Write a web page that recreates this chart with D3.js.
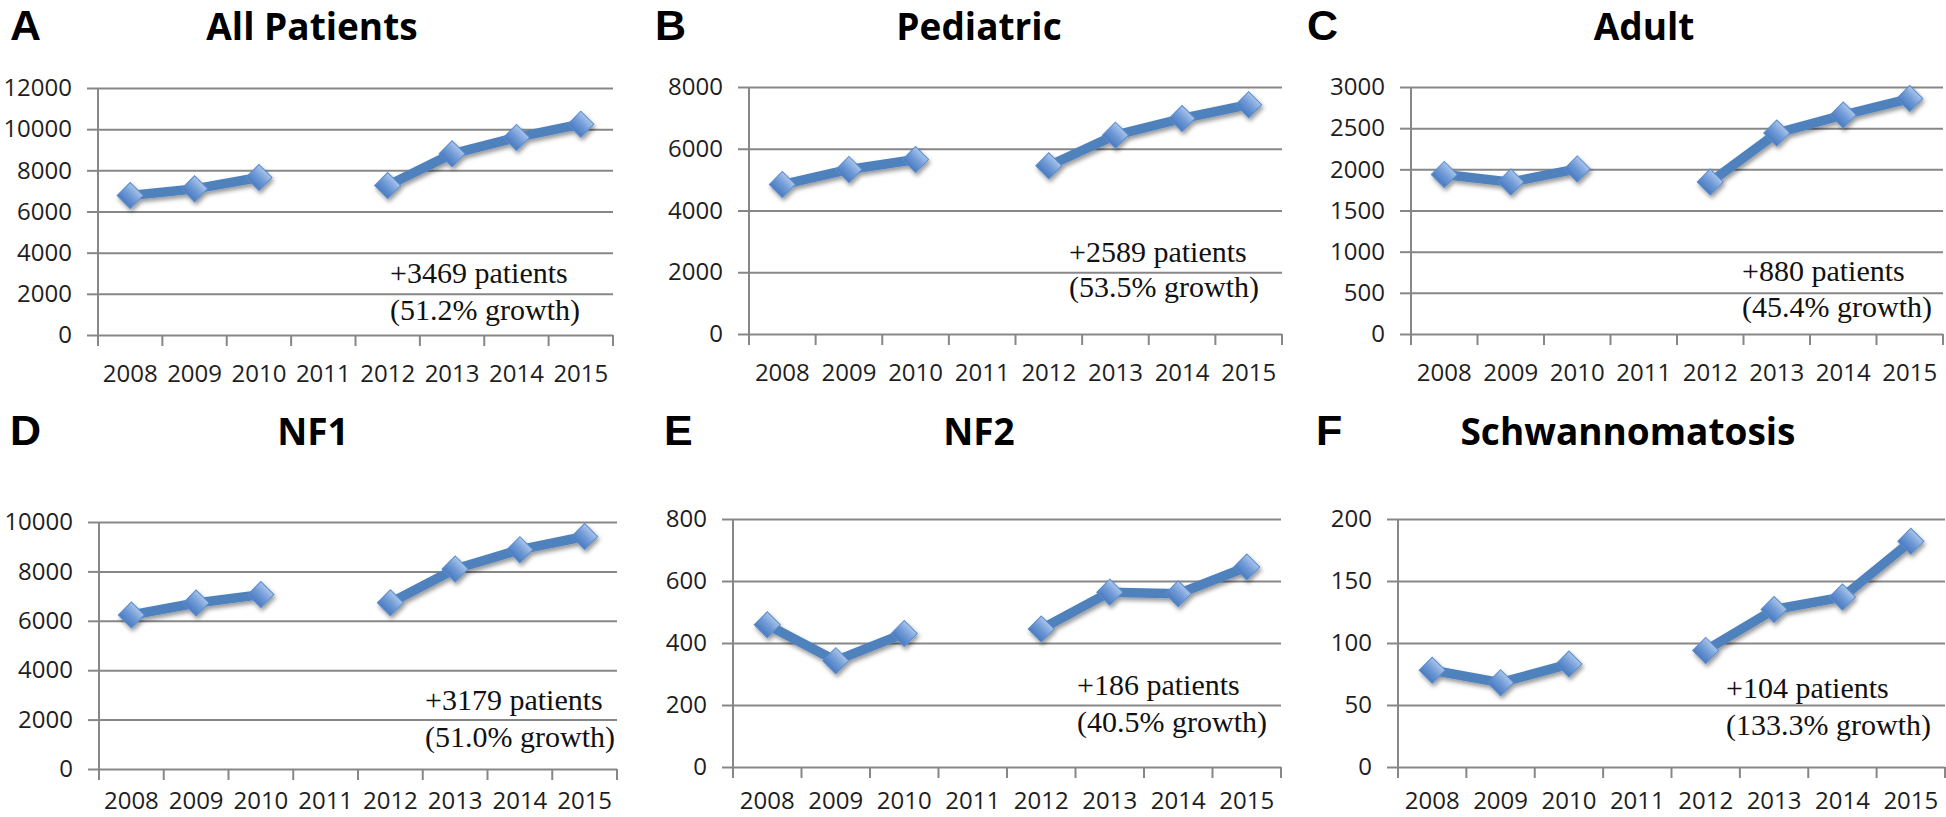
<!DOCTYPE html>
<html>
<head>
<meta charset="utf-8">
<script src="https://cdn.jsdelivr.net/npm/d3@7"></script>
<style>
  html, body { margin: 0; padding: 0; background: #ffffff; }
  svg { display: block; }
</style>
</head>
<body>
<svg id="chart" width="1946" height="817"></svg>
<script>
// ---------------- DATA ----------------
const years = ["2008", "2009", "2010", "2011", "2012", "2013", "2014", "2015"];
const panelLetters = ["A", "B", "C", "D", "E", "F"];
const panelTitles = ["All Patients", "Pediatric", "Adult", "NF1", "NF2", "Schwannomatosis"];

// values per year (2011 missing -> null)
const allPatients     = [6775, 7100, 7650, null, 7260, 8800, 9600, 10244];
const pediatric       = [4839, 5330, 5650, null, 5450, 6440, 6980, 7428];
const adult           = [1938, 1845, 2005, null, 1845, 2440, 2660, 2860];
const nf1             = [6233, 6720, 7060, null, 6730, 8100, 8880, 9412];
const nf2             = [459, 343, 431, null, 445, 564, 559, 645];
const schwannomatosis = [78, 68, 83, null, 94, 127, 137, 182];

// y-axis ticks
const yTicksA = [0, 2000, 4000, 6000, 8000, 10000, 12000];
const yTicksB = [0, 2000, 4000, 6000, 8000];
const yTicksC = [0, 500, 1000, 1500, 2000, 2500, 3000];
const yTicksD = [0, 2000, 4000, 6000, 8000, 10000];
const yTicksE = [0, 200, 400, 600, 800];
const yTicksF = [0, 50, 100, 150, 200];

// annotation texts
const growthLine1 = ["+3469 patients", "+2589 patients", "+880 patients", "+3179 patients", "+186 patients", "+104 patients"];
const growthLine2 = ["(51.2% growth)", "(53.5% growth)", "(45.4% growth)", "(51.0% growth)", "(40.5% growth)", "(133.3% growth)"];

const seriesList = [allPatients, pediatric, adult, nf1, nf2, schwannomatosis];
const tickList = [yTicksA, yTicksB, yTicksC, yTicksD, yTicksE, yTicksF];

// ---------------- LAYOUT (positions / styles) ----------------
const layout = [
  { left: 98,   right: 613,  top: 88,  bottom: 335, labelY: 47, titleX: 312,  titleY: 40,  letterX: 10,   letterY: 40,  annX: 223, ann1: 52, ann2: 15 },
  { left: 749,  right: 1282, top: 87,  bottom: 334, labelY: 47, titleX: 979,  titleY: 40,  letterX: 655,  letterY: 40,  annX: 213, ann1: 72, ann2: 37 },
  { left: 1411, right: 1943, top: 87,  bottom: 334, labelY: 47, titleX: 1644, titleY: 40,  letterX: 1307, letterY: 40,  annX: 201, ann1: 53, ann2: 17 },
  { left: 99,   right: 617,  top: 522, bottom: 769, labelY: 40, titleX: 313,  titleY: 445, letterX: 10,   letterY: 445, annX: 192, ann1: 59, ann2: 22 },
  { left: 733,  right: 1281, top: 519, bottom: 767, labelY: 42, titleX: 979,  titleY: 445, letterX: 664,  letterY: 445, annX: 204, ann1: 72, ann2: 35 },
  { left: 1398, right: 1945, top: 519, bottom: 767, labelY: 42, titleX: 1628, titleY: 445, letterX: 1316, letterY: 445, annX: 219, ann1: 69, ann2: 32 }
];

const gridColor = "#878787";
const lineColor = "#4F81BD";
const labelFont = "'Open Sans', 'DejaVu Sans', sans-serif";

const svg = d3.select("#chart");

// defs: gradient for markers and a drop shadow
const defs = svg.append("defs");
const grad = defs.append("linearGradient").attr("id", "mk").attr("x1", 0).attr("y1", 0).attr("x2", 0).attr("y2", 1);
grad.append("stop").attr("offset", "0%").attr("stop-color", "#a9c4ea");
grad.append("stop").attr("offset", "50%").attr("stop-color", "#6f9ad6");
grad.append("stop").attr("offset", "100%").attr("stop-color", "#4a7bc0");
const shadow = defs.append("filter").attr("id", "sh").attr("x", "-20%").attr("y", "-20%").attr("width", "140%").attr("height", "140%");
shadow.append("feDropShadow").attr("dx", 1.5).attr("dy", 3).attr("stdDeviation", 2.2).attr("flood-color", "#000").attr("flood-opacity", 0.4);

seriesList.forEach((values, i) => {
  const L = layout[i];
  const ticks = tickList[i];
  const g = svg.append("g");

  const x = d3.scaleBand().domain(years).range([L.left, L.right]).padding(0);
  const y = d3.scaleLinear().domain([0, d3.max(ticks)]).range([L.bottom, L.top]);

  // horizontal gridlines + left tick marks + labels
  const yAxis = d3.axisLeft(y).tickValues(ticks).tickSize(11).tickPadding(15).tickFormat(d3.format("d"));
  const ya = g.append("g").attr("transform", `translate(${L.left},0)`).call(yAxis);
  ya.select(".domain").remove();
  ya.selectAll(".tick line").attr("stroke", gridColor).attr("stroke-width", 2);
  ya.selectAll(".tick text").attr("font-family", labelFont).attr("font-size", 24).attr("fill", "#1e1e1e");

  const grid = g.append("g").attr("transform", `translate(${L.left},0)`)
    .call(d3.axisLeft(y).tickValues(ticks).tickSize(-(L.right - L.left)).tickFormat(""));
  grid.select(".domain").remove();
  grid.selectAll(".tick line").attr("stroke", gridColor).attr("stroke-width", 2);

  // vertical axis line
  g.append("line")
    .attr("x1", L.left).attr("x2", L.left)
    .attr("y1", y(d3.max(ticks))).attr("y2", y(0))
    .attr("stroke", gridColor).attr("stroke-width", 2);

  // bottom category axis: labels centered in bands, ticks at band boundaries
  const xa = g.append("g").attr("transform", `translate(0,${L.bottom})`)
    .call(d3.axisBottom(x).tickSize(0).tickPadding(0));
  xa.select(".domain").remove();
  xa.selectAll(".tick text")
    .attr("font-family", labelFont).attr("font-size", 24).attr("fill", "#1e1e1e")
    .attr("y", L.labelY).attr("dy", 0);

  const boundaries = years.map(yr => x(yr)).concat([x(years[years.length - 1]) + x.bandwidth()]);
  g.selectAll(".xtick").data(boundaries).enter().append("line")
    .attr("x1", d => d).attr("x2", d => d)
    .attr("y1", L.bottom).attr("y2", L.bottom + 11)
    .attr("stroke", gridColor).attr("stroke-width", 2);

  // series
  const pts = years.map((yr, k) => ({ year: yr, v: values[k] }));
  const sg = g.append("g").attr("filter", "url(#sh)");
  const line = d3.line()
    .defined(d => d.v !== null)
    .x(d => x(d.year) + x.bandwidth() / 2)
    .y(d => y(d.v));
  sg.append("path").datum(pts)
    .attr("d", line)
    .attr("fill", "none")
    .attr("stroke", lineColor)
    .attr("stroke-width", 9.5)
    .attr("stroke-linejoin", "round");

  const sym = d3.symbol(d3.symbolSquare, 340);
  sg.selectAll(".mk").data(pts.filter(d => d.v !== null)).enter().append("path")
    .attr("d", sym)
    .attr("transform", d => `translate(${x(d.year) + x.bandwidth() / 2},${y(d.v)}) rotate(45)`)
    .attr("fill", "url(#mk)")
    .attr("stroke", "#5b8ccc")
    .attr("stroke-width", 1);

  // title & letter
  svg.append("text")
    .attr("x", L.titleX).attr("y", L.titleY)
    .attr("text-anchor", "middle")
    .attr("font-family", labelFont).attr("font-weight", 700).attr("font-size", 37)
    .attr("fill", "#000")
    .text(panelTitles[i]);
  svg.append("text")
    .attr("x", L.letterX).attr("y", L.letterY)
    .attr("font-family", "'Liberation Sans', Arial, sans-serif").attr("font-weight", 700).attr("font-size", 43)
    .attr("fill", "#000")
    .text(panelLetters[i]);

  // annotation
  const ann = svg.append("text")
    .attr("font-family", "'Liberation Serif', 'Times New Roman', serif")
    .attr("font-size", 30).attr("fill", "#111");
  ann.append("tspan").attr("x", L.right - L.annX).attr("y", L.bottom - L.ann1).text(growthLine1[i]);
  ann.append("tspan").attr("x", L.right - L.annX).attr("y", L.bottom - L.ann2).text(growthLine2[i]);
});
</script>
</body>
</html>
